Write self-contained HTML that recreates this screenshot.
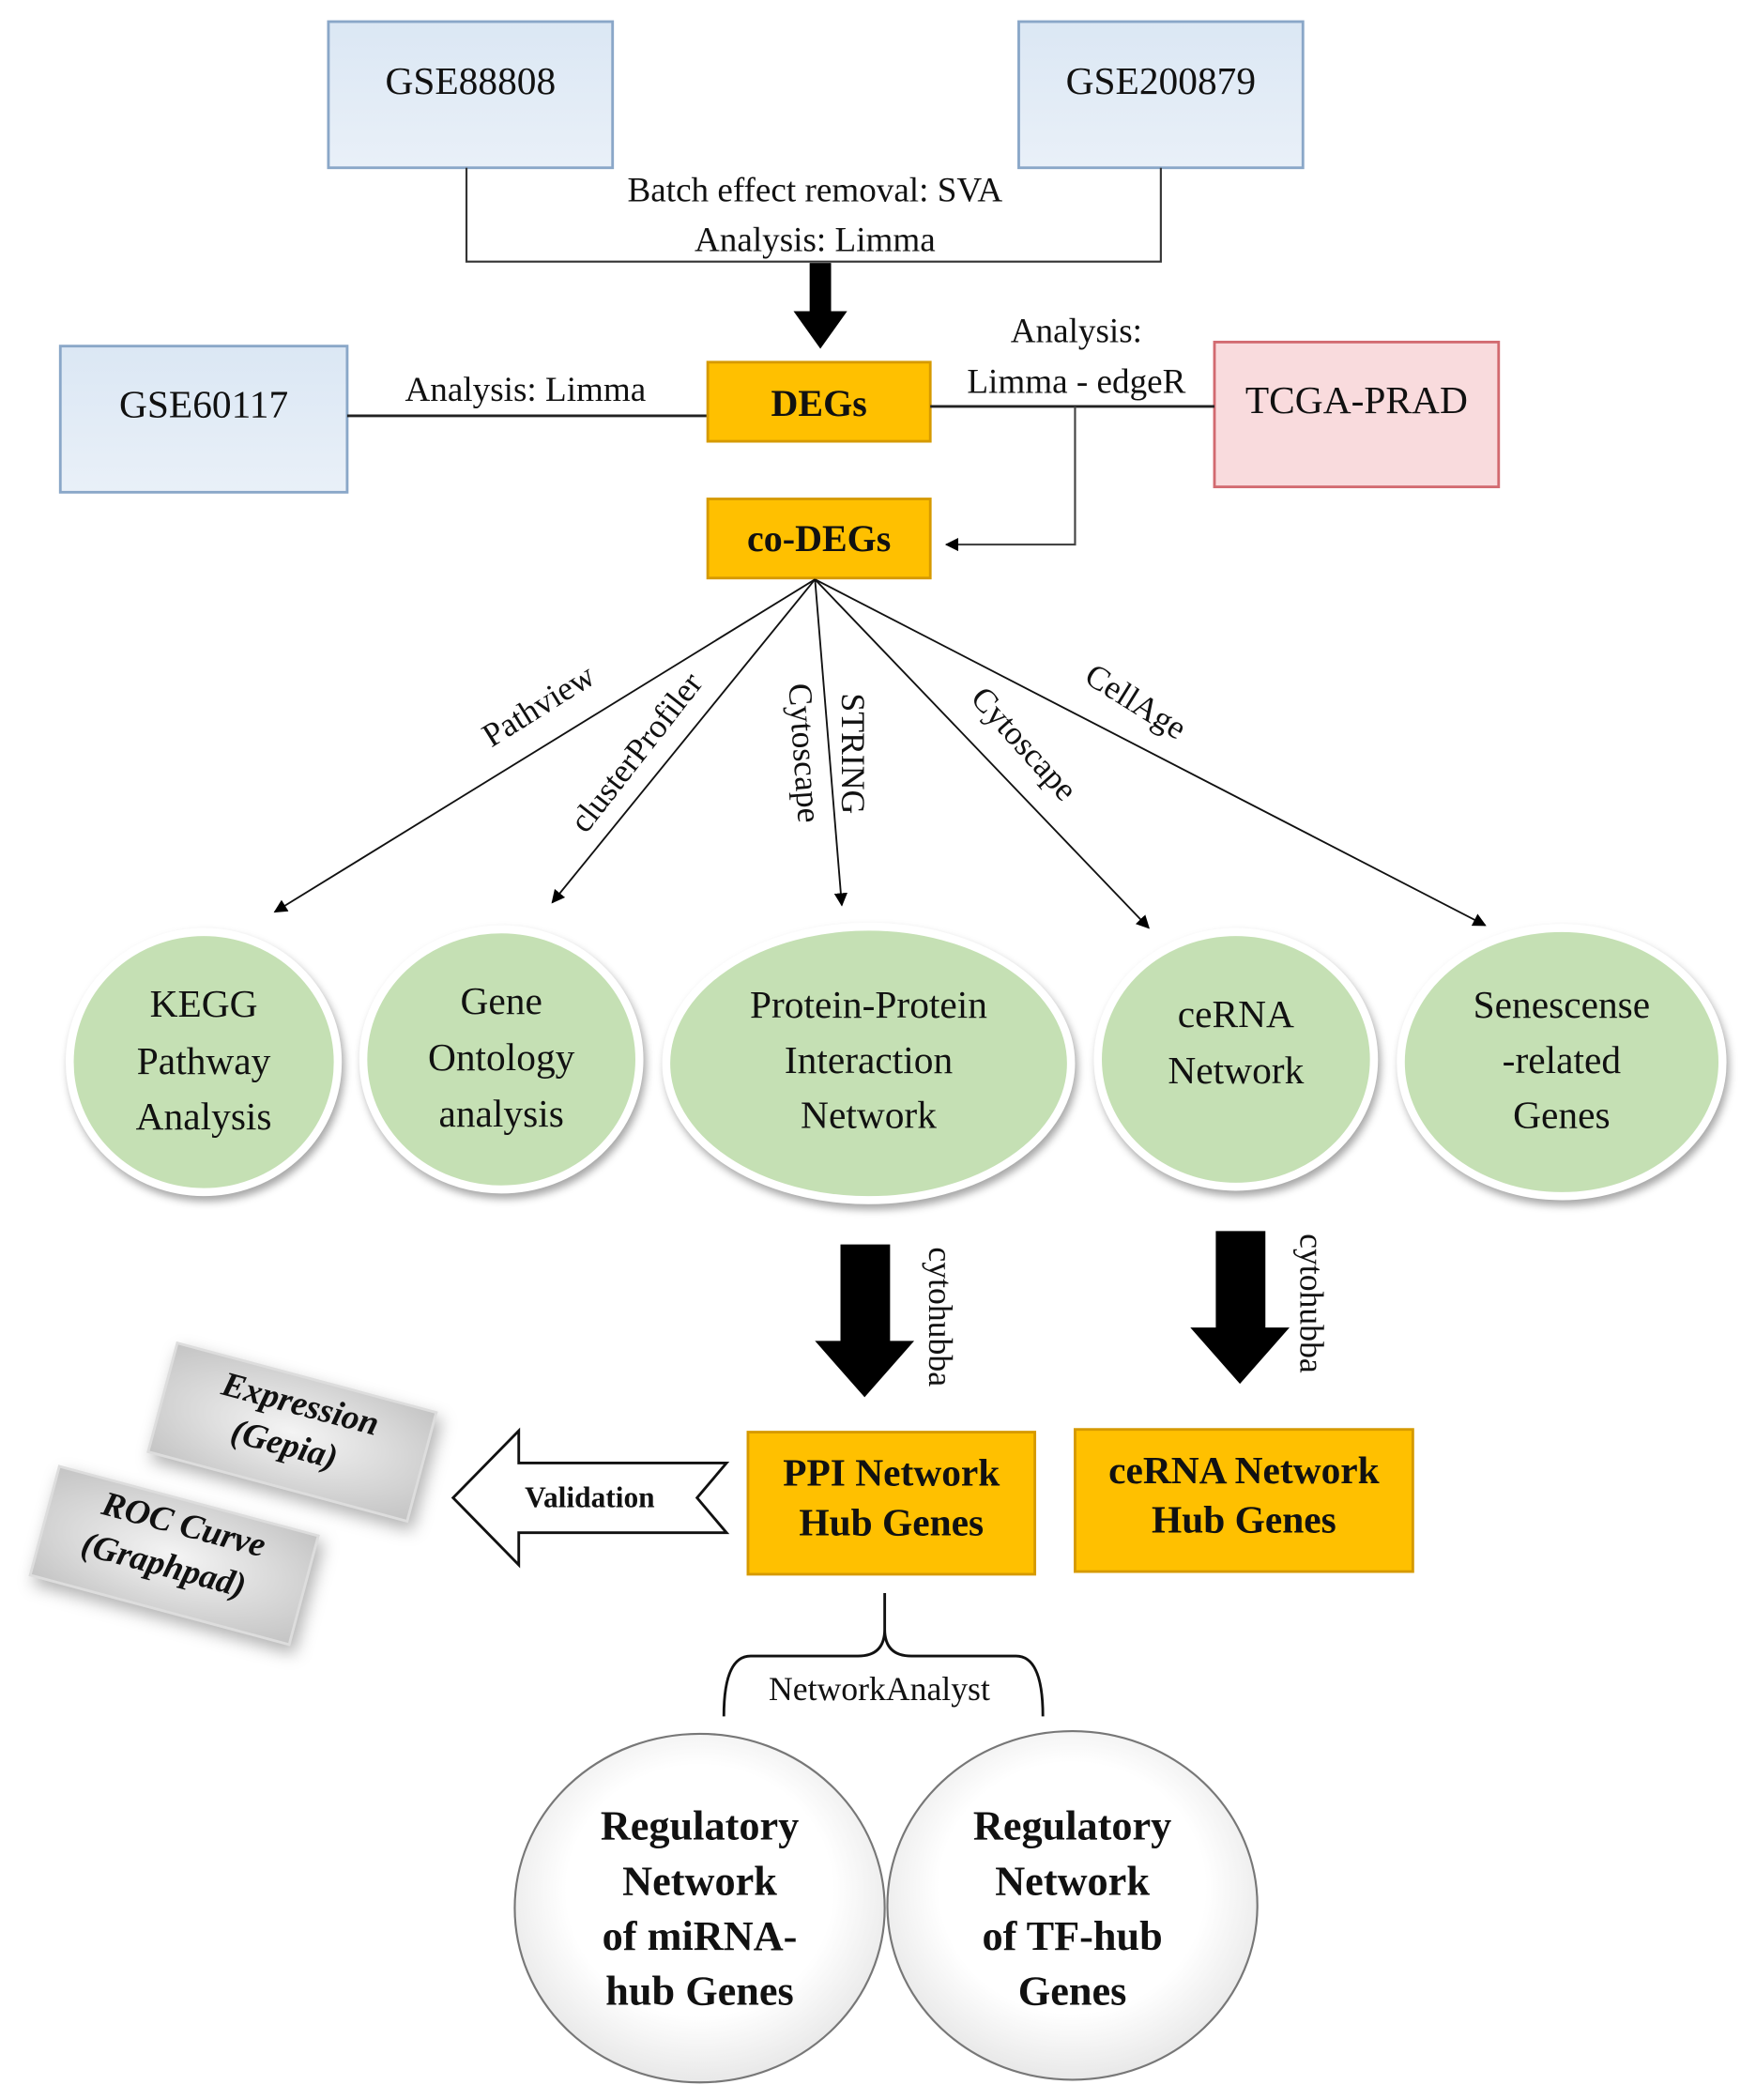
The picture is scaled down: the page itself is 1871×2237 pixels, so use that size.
<!DOCTYPE html>
<html><head><meta charset="utf-8"><style>
html,body{margin:0;padding:0;background:#fff;}
svg{display:block;}
text{font-family:"Liberation Serif",serif;fill:#111;}
</style></head><body>
<svg width="1871" height="2237" viewBox="0 0 1310 1566" xmlns="http://www.w3.org/2000/svg">
<defs>
<linearGradient id="blue" x1="0" y1="0" x2="0" y2="1"><stop offset="0" stop-color="#dbe7f4"/><stop offset="1" stop-color="#e9f0f8"/></linearGradient>
<radialGradient id="gray" cx="0.5" cy="0.5" r="0.7"><stop offset="0" stop-color="#f4f4f4"/><stop offset="1" stop-color="#c4c4c4"/></radialGradient>
<radialGradient id="wc" cx="0.5" cy="0.45" r="0.6"><stop offset="0.6" stop-color="#fff"/><stop offset="1" stop-color="#e2e2e2"/></radialGradient>
<marker id="ah" markerWidth="10" markerHeight="10" refX="9" refY="5" orient="auto" markerUnits="userSpaceOnUse"><path d="M0,0 L10,5 L0,10 z" fill="#000"/></marker>
</defs>
<rect x="245" y="16" width="212" height="109" fill="url(#blue)" stroke="#8aa7c8" stroke-width="2"/>
<text x="351" y="70" font-size="29" text-anchor="middle">GSE88808</text>
<rect x="760" y="16" width="212" height="109" fill="url(#blue)" stroke="#8aa7c8" stroke-width="2"/>
<text x="866" y="70" font-size="29" text-anchor="middle">GSE200879</text>
<polyline points="348,125 348,195 866,195 866,125" fill="none" stroke="#333" stroke-width="1.5"/>
<text x="608" y="150" font-size="26" text-anchor="middle">Batch effect removal: SVA</text>
<text x="608" y="187" font-size="26" text-anchor="middle">Analysis: Limma</text>
<polygon points="604,196 620,196 620,232 632,232 612,260 592,232 604,232" fill="#000"/>
<rect x="45" y="258" width="214" height="109" fill="url(#blue)" stroke="#8aa7c8" stroke-width="2"/>
<text x="152" y="311" font-size="29" text-anchor="middle">GSE60117</text>
<line x1="259" y1="310" x2="528" y2="310" stroke="#222" stroke-width="2"/>
<text x="392" y="299" font-size="26" text-anchor="middle">Analysis: Limma</text>
<rect x="528" y="270" width="166" height="59" fill="#ffc000" stroke="#d69a00" stroke-width="2"/>
<text x="611" y="310" font-size="28" font-weight="bold" text-anchor="middle">DEGs</text>
<rect x="906" y="255" width="212" height="108" fill="#f9dbdd" stroke="#d26a70" stroke-width="2"/>
<text x="1012" y="308" font-size="29" text-anchor="middle">TCGA-PRAD</text>
<line x1="694" y1="303" x2="906" y2="303" stroke="#222" stroke-width="2"/>
<text x="803" y="255" font-size="26" text-anchor="middle">Analysis:</text>
<text x="803" y="293" font-size="26" text-anchor="middle">Limma - edgeR</text>
<polyline points="802,303 802,406 706,406" fill="none" stroke="#444" stroke-width="1.5" marker-end="url(#ah)"/>
<rect x="528" y="372" width="166" height="59" fill="#ffc000" stroke="#d69a00" stroke-width="2"/>
<text x="611" y="411" font-size="28" font-weight="bold" text-anchor="middle">co-DEGs</text>
<g stroke="#111" stroke-width="1.3" fill="none">
<line x1="608" y1="432" x2="205" y2="680" marker-end="url(#ah)"/>
<line x1="608" y1="432" x2="412" y2="673" marker-end="url(#ah)"/>
<line x1="608" y1="432" x2="628" y2="675" marker-end="url(#ah)"/>
<line x1="608" y1="432" x2="857" y2="692" marker-end="url(#ah)"/>
<line x1="608" y1="432" x2="1108" y2="690" marker-end="url(#ah)"/>
</g>
<text font-size="25" transform="translate(406,533) rotate(-32)" text-anchor="middle">Pathview</text>
<text font-size="25" transform="translate(481,566) rotate(-52)" text-anchor="middle">clusterProfiler</text>
<text font-size="25" transform="translate(592,562) rotate(86)" text-anchor="middle">Cytoscape</text>
<text font-size="25" transform="translate(628,562) rotate(90)" text-anchor="middle">STRING</text>
<text font-size="25" transform="translate(758,560) rotate(48)" text-anchor="middle">Cytoscape</text>
<text font-size="25" transform="translate(843,530) rotate(32)" text-anchor="middle">CellAge</text>
<g fill="#c5e0b4" stroke="#fff" stroke-width="6" style="filter:drop-shadow(2px 4px 3px rgba(0,0,0,0.35))">
<ellipse cx="152" cy="792" rx="100" ry="97"/>
<ellipse cx="374" cy="790" rx="103" ry="97"/>
<ellipse cx="648" cy="793" rx="151" ry="102"/>
<ellipse cx="922" cy="790" rx="103" ry="95"/>
<ellipse cx="1165" cy="792" rx="120" ry="100"/>
</g>
<g font-size="29" text-anchor="middle">
<text x="152" y="758">KEGG</text><text x="152" y="801">Pathway</text><text x="152" y="842">Analysis</text>
<text x="374" y="756">Gene</text><text x="374" y="798">Ontology</text><text x="374" y="840">analysis</text>
<text x="648" y="759">Protein-Protein</text><text x="648" y="800">Interaction</text><text x="648" y="841">Network</text>
<text x="922" y="766">ceRNA</text><text x="922" y="808">Network</text>
<text x="1165" y="759">Senescense</text><text x="1165" y="800">-related</text><text x="1165" y="841">Genes</text>
</g>
<polygon points="627,928 664,928 664,1000 682,1000 645,1042 608,1000 627,1000" fill="#000"/>
<text font-size="25" transform="translate(693,982) rotate(90)" text-anchor="middle">cytohubba</text>
<polygon points="907,918 944,918 944,990 962,990 925,1032 888,990 907,990" fill="#000"/>
<text font-size="25" transform="translate(970,972) rotate(90)" text-anchor="middle">cytohubba</text>
<rect x="558" y="1068" width="214" height="106" fill="#ffc000" stroke="#d69a00" stroke-width="2"/>
<text x="665" y="1108" font-size="29" font-weight="bold" text-anchor="middle">PPI Network</text>
<text x="665" y="1145" font-size="29" font-weight="bold" text-anchor="middle">Hub Genes</text>
<rect x="802" y="1066" width="252" height="106" fill="#ffc000" stroke="#d69a00" stroke-width="2"/>
<text x="928" y="1106" font-size="29" font-weight="bold" text-anchor="middle">ceRNA Network</text>
<text x="928" y="1143" font-size="29" font-weight="bold" text-anchor="middle">Hub Genes</text>
<polygon points="338,1117 387,1067 387,1091 542,1091 520,1117 542,1143 387,1143 387,1167" fill="#fff" stroke="#111" stroke-width="2"/>
<text x="440" y="1124" font-size="22" font-weight="bold" text-anchor="middle">Validation</text>
<g style="filter:drop-shadow(3px 6px 6px rgba(0,0,0,0.3))">
<g transform="translate(218,1068) rotate(15)"><rect x="-100" y="-42" width="200" height="84" fill="url(#gray)" stroke="#ddd" stroke-width="2"/></g>
<g transform="translate(130,1160) rotate(15)"><rect x="-100" y="-42" width="200" height="84" fill="url(#gray)" stroke="#ddd" stroke-width="2"/></g>
</g>
<g font-size="26" font-weight="bold" font-style="italic" text-anchor="middle">
<text transform="translate(222,1055) rotate(15)">Expression</text>
<text transform="translate(210,1085) rotate(15)">(Gepia)</text>
<text transform="translate(135,1145) rotate(15)">ROC Curve</text>
<text transform="translate(120,1175) rotate(15)">(Graphpad)</text>
</g>
<path d="M660,1188 L660,1215 Q660,1235 640,1235 L560,1235 Q540,1235 540,1280 M660,1215 Q660,1235 680,1235 L758,1235 Q778,1235 778,1280" fill="none" stroke="#111" stroke-width="2"/>
<text x="656" y="1268" font-size="25" text-anchor="middle">NetworkAnalyst</text>
<ellipse cx="522" cy="1423" rx="138" ry="130" fill="url(#wc)" stroke="#777" stroke-width="1.5"/>
<ellipse cx="800" cy="1421" rx="138" ry="130" fill="url(#wc)" stroke="#777" stroke-width="1.5"/>
<g font-size="31" font-weight="bold" text-anchor="middle">
<text x="522" y="1372">Regulatory</text><text x="522" y="1413">Network</text><text x="522" y="1454">of miRNA-</text><text x="522" y="1495">hub Genes</text>
<text x="800" y="1372">Regulatory</text><text x="800" y="1413">Network</text><text x="800" y="1454">of TF-hub</text><text x="800" y="1495">Genes</text>
</g>
</svg>
</body></html>
